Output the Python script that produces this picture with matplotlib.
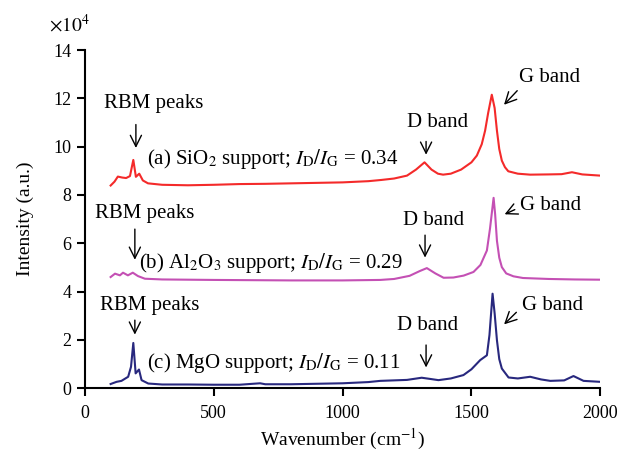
import numpy as np
import matplotlib.pyplot as plt

# =========================
# 0. 基本设置
# =========================
plt.rcParams["font.family"] = ["Liberation Serif", "DejaVu Serif"]
plt.rcParams["mathtext.fontset"] = "stix"

# =========================
# 1. 数据 (读图估计, 强度单位 1e4)
# =========================
wn_a = [100, 115, 128, 145, 160, 175, 188, 198, 211, 225, 245, 300, 400, 500, 600,
        700, 800, 900, 1000, 1100, 1150, 1200, 1250, 1285, 1318, 1345, 1370, 1390,
        1420, 1460, 1500, 1521, 1540, 1553, 1565, 1579, 1590, 1599, 1608, 1618, 1630,
        1643, 1680, 1728, 1800, 1850, 1890, 1930, 2000]
int_a = [8.39, 8.55, 8.76, 8.72, 8.70, 8.78, 9.45, 8.75, 8.88, 8.60, 8.48, 8.42, 8.40,
         8.42, 8.45, 8.46, 8.48, 8.50, 8.52, 8.57, 8.62, 8.68, 8.80, 9.05, 9.35, 9.05,
         8.88, 8.84, 8.88, 9.05, 9.35, 9.63, 10.1, 10.66, 11.4, 12.15, 11.6, 10.66, 9.9,
         9.42, 9.15, 8.98, 8.88, 8.84, 8.85, 8.86, 8.94, 8.85, 8.80]

wn_b = [100, 117, 136, 148, 167, 186, 206, 233, 300, 500, 800, 1000, 1146, 1200, 1260,
        1300, 1327, 1360, 1392, 1430, 1470, 1508, 1535, 1560, 1572, 1586, 1592, 1599,
        1608, 1618, 1635, 1663, 1700, 1800, 1900, 2000]
int_b = [4.60, 4.74, 4.67, 4.78, 4.67, 4.78, 4.64, 4.53, 4.50, 4.48, 4.46, 4.46, 4.48,
         4.52, 4.65, 4.85, 4.97, 4.75, 4.57, 4.58, 4.66, 4.81, 5.1, 5.7, 6.6, 7.88, 7.2,
         6.1, 5.4, 5.01, 4.75, 4.63, 4.56, 4.52, 4.50, 4.49]

wn_c = [100, 123, 142, 168, 179, 188, 197, 210, 220, 246, 300, 400, 500, 600, 680, 700,
        800, 900, 1000, 1100, 1146, 1250, 1307, 1340, 1372, 1420, 1469, 1500, 1534, 1560,
        1570, 1582, 1590, 1599, 1608, 1618, 1644, 1680, 1728, 1770, 1806, 1860, 1896,
        1935, 2000]
int_c = [0.17, 0.26, 0.30, 0.47, 0.88, 1.87, 0.61, 0.77, 0.33, 0.19, 0.15, 0.15, 0.14,
         0.14, 0.20, 0.16, 0.16, 0.18, 0.20, 0.25, 0.30, 0.34, 0.43, 0.38, 0.33, 0.40,
         0.54, 0.78, 1.16, 1.36, 2.2, 3.91, 3.1, 1.98, 1.2, 0.81, 0.44, 0.40, 0.47, 0.36,
         0.30, 0.32, 0.50, 0.30, 0.26]

labels = [
    r"(a) SiO$_2$ support; $I_{\mathrm{D}}/I_{\mathrm{G}}$ = 0.34",
    r"(b) Al$_2$O$_3$ support; $I_{\mathrm{D}}/I_{\mathrm{G}}$ = 0.29",
    r"(c) MgO support; $I_{\mathrm{D}}/I_{\mathrm{G}}$ = 0.11",
]
colors = ["#f42a2a", "#c450b4", "#28287e"]

# =========================
# 2. 绘图
# =========================
fig = plt.figure(figsize=(6.24, 4.55), dpi=100)
ax = fig.add_axes([0.136, 0.147, 0.826, 0.743])

ax.plot(wn_a, int_a, color=colors[0], lw=1.5)
ax.plot(wn_b, int_b, color=colors[1], lw=1.5)
ax.plot(wn_c, int_c, color=colors[2], lw=1.5)

ax.set_xlim(0, 2000)
ax.set_ylim(0, 14)
ax.set_xticks([0, 500, 1000, 1500, 2000])
ax.set_yticks(range(0, 15, 2))
for s in ["top", "right"]:
    ax.spines[s].set_visible(False)
for s in ["left", "bottom"]:
    ax.spines[s].set_linewidth(1.5)
ax.tick_params(direction="out", length=6, width=1.5, labelsize=13)
ax.tick_params(axis="x", pad=6)

ax.set_xlabel(r"Wavenumber (cm$^{-1}$)", fontsize=14, labelpad=4)
ax.set_ylabel("Intensity (a.u.)", fontsize=14, labelpad=14)
ax.text(-0.03, 1.075, r"$\times10^4$", transform=ax.transAxes, ha="center",
        va="center", fontsize=14)

# 文字标注
fs = 15
ax.text(241, 9.5, labels[0], fontsize=fs, va="center", ha="left")
ax.text(210, 5.2, labels[1], fontsize=fs, va="center", ha="left")
ax.text(241, 1.03, labels[2], fontsize=fs, va="center", ha="left")

arrow = dict(arrowstyle="->", color="black", lw=1.0, mutation_scale=20)

# RBM peaks
for tx, ty, ax_, top, tip in [(268, 11.78, 198, 11.03, 9.83),
                              (231, 7.23, 194, 6.7, 5.2),
                              (252, 3.43, 194, 2.93, 2.1)]:
    ax.text(tx, ty, "RBM peaks", fontsize=fs, ha="center", va="center")
    ax.annotate("", xy=(ax_, tip), xytext=(ax_, top), arrowprops=arrow)

# D band
for tx, ty, ax_, top, tip in [(1369, 11.0, 1324, 10.33, 9.55),
                              (1353, 6.94, 1320, 6.45, 5.29),
                              (1330, 2.6, 1324, 1.9, 0.74)]:
    ax.text(tx, ty, "D band", fontsize=fs, ha="center", va="center")
    ax.annotate("", xy=(ax_, tip), xytext=(ax_, top), arrowprops=arrow)

# G band
for tx, ty, sx, sy, ex, ey in [(1802, 12.85, 1685, 12.4, 1619, 11.65),
                               (1806, 7.56, 1678, 7.44, 1619, 7.15),
                               (1816, 3.43, 1682, 3.22, 1619, 2.56)]:
    ax.text(tx, ty, "G band", fontsize=fs, ha="center", va="center")
    ax.annotate("", xy=(ex, ey), xytext=(sx, sy), arrowprops=arrow)

fig.savefig("out.png", dpi=100)
